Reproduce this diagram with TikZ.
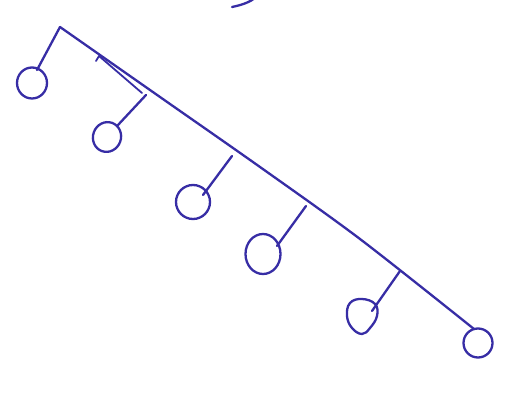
\documentclass[tikz,border=0pt]{standalone}
\begin{document}
\begin{tikzpicture}[x=1pt,y=-1pt,
  ink/.style={draw=inkblue,line width=2.3pt,line cap=round,line join=round}]
\definecolor{inkblue}{RGB}{55,45,165}
\useasboundingbox[fill=white] (0,0) rectangle (516,403);
% main beam
\coordinate (apex) at (60,27);
\coordinate (p4) at (400,271);
\coordinate (tip) at (474,329);
\draw[ink] plot[smooth,tension=0.5] coordinates {(apex) (160,97) (260,167) (360,239) (tip)};
% little parallel mark
\draw[ink,line width=1.8pt] (96,61) -- (99,56) -- (142,93);
% top arc
\draw[ink] (232,7) .. controls (242,5) and (250,2) .. (255,-2);
% pendant 1
\coordinate (s1) at (37,70);
\draw[ink] (apex) -- (s1);
\draw[ink] (32,83) ellipse[x radius=15,y radius=15.5];
% pendant 2
\coordinate (s2) at (118,125);
\draw[ink] (146,95) -- (s2);
\draw[ink,rotate around={-20:(107,137)}] (107,137) ellipse[x radius=14,y radius=15];
% pendant 3
\coordinate (s3) at (203,195);
\draw[ink] (232,156) -- (s3);
\draw[ink] (193,202) ellipse[x radius=17,y radius=17];
% pendant 4
\coordinate (s4) at (277,246);
\draw[ink] (306,206) -- (s4);
\draw[ink] (263,254) ellipse[x radius=17.5,y radius=20];
% pendant 5
\coordinate (s5) at (372,311);
\draw[ink] (p4) -- (s5);
\draw[ink] plot[smooth cycle,tension=0.7] coordinates {(362,299) (375,304) (377,316) (370,328) (362,334) (352,328) (347,316) (350,303)};
% pendant 6 at the tip
\draw[ink] (478,343) ellipse[x radius=14.5,y radius=14.5];
\end{tikzpicture}
\end{document}
